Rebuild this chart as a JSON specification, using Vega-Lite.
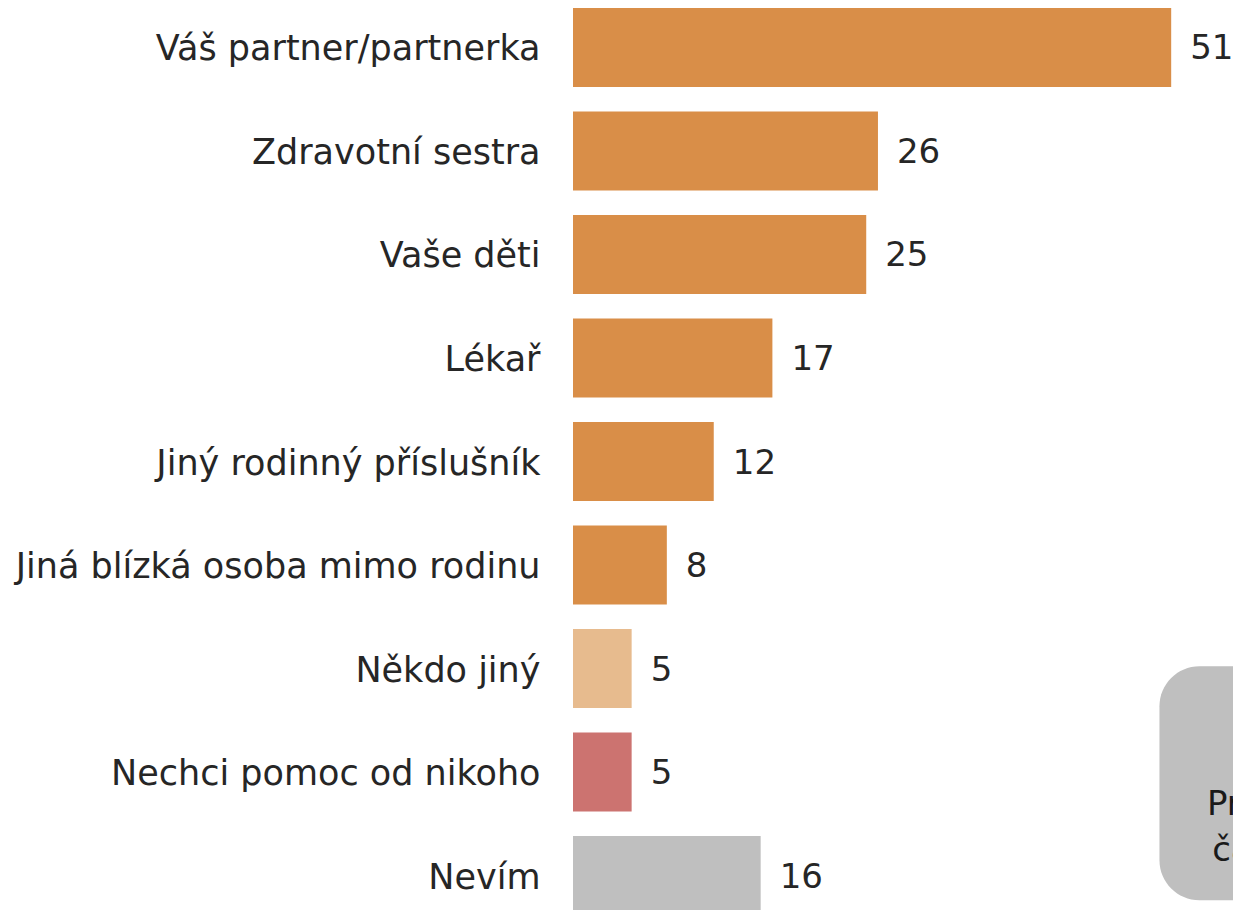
{
  "$schema": "https://vega.github.io/schema/vega-lite/v6.json",
  "autosize": "none",
  "width": 660,
  "height": 907,
  "padding": {"left": 573, "top": 8, "right": 0, "bottom": 0},
  "background": "white",
  "config": {"view": {"stroke": null}, "font": "DejaVu Sans"},
  "datasets": {
    "bars": [
      {"cat": "Váš partner/partnerka", "value": 51, "group": "a"},
      {"cat": "Zdravotní sestra", "value": 26, "group": "a"},
      {"cat": "Vaše děti", "value": 25, "group": "a"},
      {"cat": "Lékař", "value": 17, "group": "a"},
      {"cat": "Jiný rodinný příslušník", "value": 12, "group": "a"},
      {"cat": "Jiná blízká osoba mimo rodinu", "value": 8, "group": "a"},
      {"cat": "Někdo jiný", "value": 5, "group": "b"},
      {"cat": "Nechci pomoc od nikoho", "value": 5, "group": "c"},
      {"cat": "Nevím", "value": 16, "group": "d"}
    ],
    "box": [{"x": 50.0, "x2": 70, "y": 6.36, "y2": 8.62}],
    "boxtext": [
      {"x": 54.05, "y": 7.8, "t": "Průměrně"},
      {"x": 54.5, "y": 8.24, "t": "často"}
    ]
  },
  "resolve": {"scale": {"y": "independent"}},
  "layer": [
    {
      "data": {"name": "bars"},
      "encoding": {
        "y": {
          "field": "cat", "type": "nominal", "sort": null,
          "scale": {"paddingInner": 0.237, "paddingOuter": 0},
          "axis": {"title": null, "domain": false, "ticks": false, "labelPadding": 33, "labelOffset": 2, "labelFontSize": 35, "labelColor": "#262626", "labelFont": "DejaVu Sans", "labelLimit": 700}
        },
        "x": {"field": "value", "type": "quantitative", "scale": {"domain": [0, 56.27], "nice": false, "zero": true}, "axis": null}
      },
      "layer": [
        {
          "mark": {"type": "bar", "strokeWidth": 1, "strokeOpacity": 0.5},
          "encoding": {
            "color": {"field": "group", "type": "nominal", "legend": null,
              "scale": {"domain": ["a", "b", "c", "d"], "range": ["#D98E48", "#E7BB8E", "#CC7370", "#BFBFBF"]}}
          }
        },
        {
          "mark": {"type": "text", "align": "left", "baseline": "middle", "dx": 19, "dy": 2, "fontSize": 34, "color": "#262626", "font": "DejaVu Sans"},
          "encoding": {"text": {"field": "value", "type": "quantitative"}}
        }
      ]
    },
    {
      "data": {"name": "box"},
      "mark": {"type": "rect", "cornerRadius": 40, "color": "#BFBFBF", "clip": false},
      "encoding": {
        "x": {"field": "x", "type": "quantitative", "scale": {"domain": [0, 56.27], "nice": false}, "axis": null},
        "x2": {"field": "x2"},
        "y": {"field": "y", "type": "quantitative", "scale": {"domain": [0, 8.7633], "nice": false, "zero": false, "reverse": true}, "axis": null},
        "y2": {"field": "y2"}
      }
    },
    {
      "data": {"name": "boxtext"},
      "mark": {"type": "text", "align": "left", "baseline": "alphabetic", "fontSize": 34, "color": "#1a1a1a", "font": "DejaVu Sans"},
      "encoding": {
        "x": {"field": "x", "type": "quantitative", "scale": {"domain": [0, 56.27], "nice": false}, "axis": null},
        "y": {"field": "y", "type": "quantitative", "scale": {"domain": [0, 8.7633], "nice": false, "zero": false, "reverse": true}, "axis": null},
        "text": {"field": "t"}
      }
    }
  ]
}
